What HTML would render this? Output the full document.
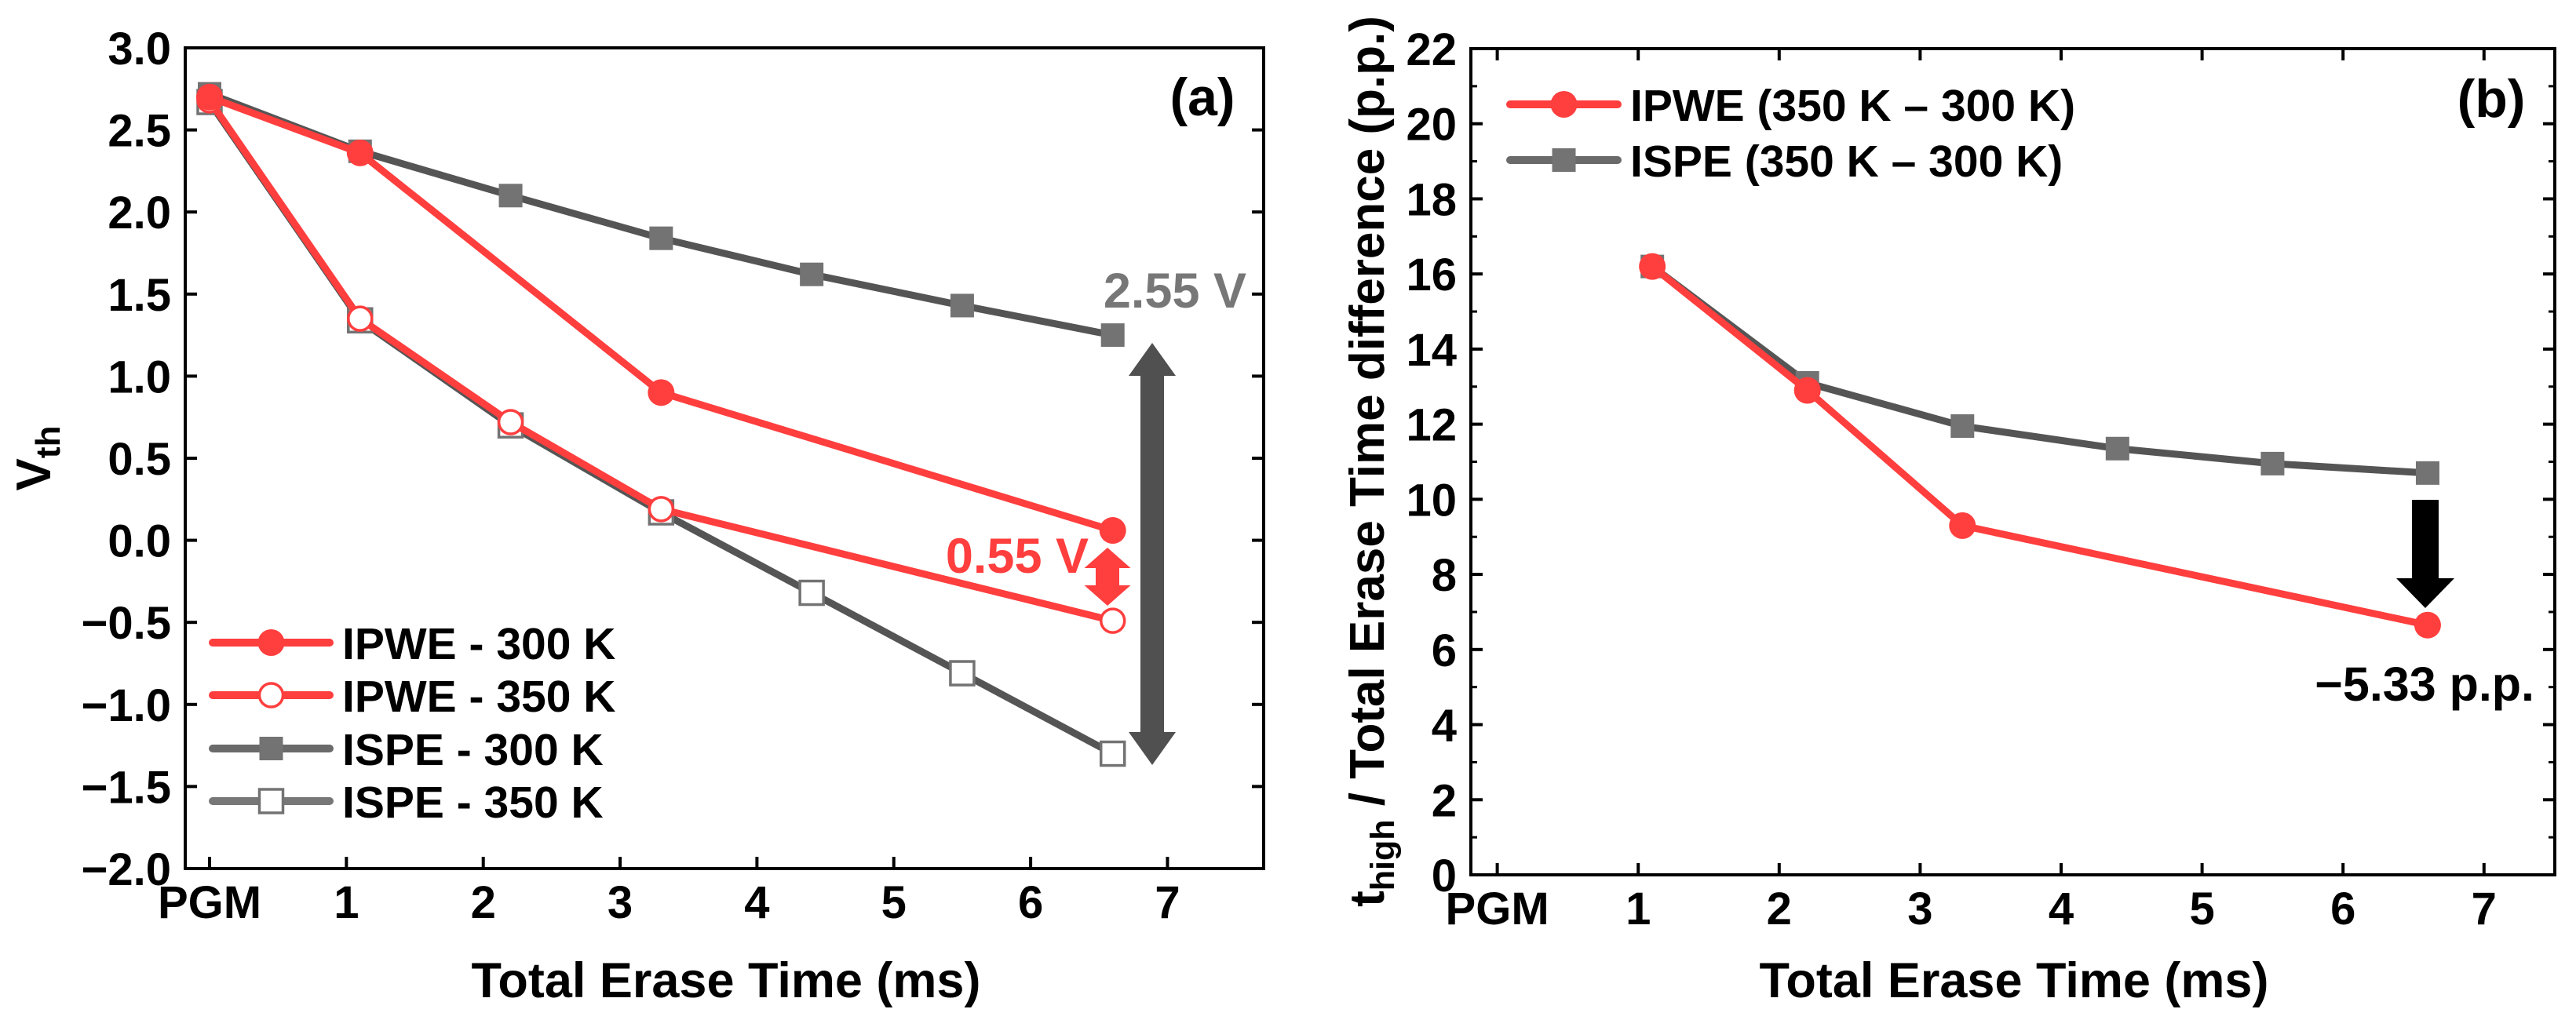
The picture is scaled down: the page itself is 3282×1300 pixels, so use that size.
<!DOCTYPE html>
<html><head><meta charset="utf-8">
<style>
html,body{margin:0;padding:0;background:#fff;}
svg{display:block;}
text{font-family:"Liberation Sans",Arial,sans-serif;font-weight:bold;}
</style></head>
<body>
<svg id="fig" width="3282" height="1300" viewBox="0 0 3282 1300" xmlns="http://www.w3.org/2000/svg">
<g id="pa"></g>
<g id="pb"></g>
</svg>
<script>
// ---- Panel (a) data ----
const aXticks = [0,1,2,3,4,5,6,7];
const aXtickLabels = ["PGM","1","2","3","4","5","6","7"];
const aYticks = [-2.0,-1.5,-1.0,-0.5,0.0,0.5,1.0,1.5,2.0,2.5,3.0];
const aYtickLabels = ["\u22122.0","\u22121.5","\u22121.0","\u22120.5","0.0","0.5","1.0","1.5","2.0","2.5","3.0"];
const ipwe300X = [0,1.1,3.3,6.6];
const ipwe300Y = [2.70,2.36,0.90,0.06];
const ipwe350X = [0,1.1,2.2,3.3,6.6];
const ipwe350Y = [2.68,1.35,0.72,0.19,-0.49];
const ispe300X = [0,1.1,2.2,3.3,4.4,5.5,6.6];
const ispe300Y = [2.72,2.37,2.10,1.84,1.62,1.43,1.25];
const ispe350X = [0,1.1,2.2,3.3,4.4,5.5,6.6];
const ispe350Y = [2.67,1.34,0.70,0.17,-0.32,-0.81,-1.30];
// ---- Panel (b) data ----
const bXticks = [0,1,2,3,4,5,6,7];
const bXtickLabels = ["PGM","1","2","3","4","5","6","7"];
const bYticks = [0,2,4,6,8,10,12,14,16,18,20,22];
const bYtickLabels = ["0","2","4","6","8","10","12","14","16","18","20","22"];
const ipweDiffX = [1.1,2.2,3.3,6.6];
const ipweDiffY = [16.2,12.9,9.3,6.65];
const ispeDiffX = [1.1,2.2,3.3,4.4,5.5,6.6];
const ispeDiffY = [16.2,13.1,11.95,11.35,10.95,10.7];

const NS="http://www.w3.org/2000/svg";
function mk(parent,tag,attrs,txt){const e=document.createElementNS(NS,tag);for(const k in attrs)e.setAttribute(k,attrs[k]);if(txt!==undefined)e.textContent=txt;parent.appendChild(e);return e;}

const RED="#ff3e3e", DARK="#555555", GREY="#737373";

const ax={l:236,r:1610,t:61,b:1107};
const aX=v=>267+v*174.35;
const aY=v=>ax.b-(v+2)/5*(ax.b-ax.t);
const bx={l:1874,r:3255,t:62,b:1115};
const bX=v=>1907.6+v*179.6;
const bY=v=>bx.b-v/22*(bx.b-bx.t);

function frame(g,f,xt,xl,xs,yt,yl,ys,minorY,topTicks){
  const fr=mk(g,'rect',{x:f.l,y:f.t,width:f.r-f.l,height:f.b-f.t,fill:'none',stroke:'#000','stroke-width':4});
  
  
  xt.forEach((v,i)=>{
    const x=xs(v);
    const t=mk(g,'line',{x1:x,x2:x,y1:f.b,y2:f.b-15,stroke:'#000','stroke-width':4});
    
    
    if(topTicks){const t2=mk(g,'line',{x1:x,x2:x,y1:f.t,y2:f.t+15,stroke:'#000','stroke-width':4});
      
      }
    const lb=mk(g,'text',{x:x,y:f.b+63,'font-size':58,'text-anchor':'middle'},xl[i]);
    
    
  });
  yt.forEach((v,i)=>{
    const y=ys(v);
    const t=mk(g,'line',{x1:f.l,x2:f.l+15,y1:y,y2:y,stroke:'#000','stroke-width':4});
    
    
    const t2=mk(g,'line',{x1:f.r,x2:f.r-15,y1:y,y2:y,stroke:'#000','stroke-width':4});
    
    
    const lb=mk(g,'text',{x:f.l-18,y:y+21,'font-size':58,'text-anchor':'end'},yl[i]);
    
    
  });
  if(minorY){for(let i=0;i<yt.length-1;i++){const y=(ys(yt[i])+ys(yt[i+1]))/2;
    const m=mk(g,'line',{x1:f.l,x2:f.l+8,y1:y,y2:y,stroke:'#000','stroke-width':3});
    
    
    const m2=mk(g,'line',{x1:f.r,x2:f.r-8,y1:y,y2:y,stroke:'#000','stroke-width':3});
    
    }}
}

function series(g,name,xs,ys,X,Y,lineColor,markerType,markerColor,filled){
  const sg=mk(g,'g',{});
  
  
  const pts=X.map((v,i)=>xs(v)+','+ys(Y[i])).join(' ');
  const pl=mk(sg,'polyline',{points:pts,fill:'none',stroke:lineColor,'stroke-width':9,'stroke-linejoin':'round'});
  
  
  X.forEach((v,i)=>{
    const cx=xs(v),cy=ys(Y[i]);let m;
    if(markerType==='circle'){m=mk(sg,'circle',{cx:cx,cy:cy,r:filled?17:15,fill:filled?markerColor:'#fff',stroke:markerColor,'stroke-width':filled?0:3.5});}
    else{m=mk(sg,'rect',{x:cx-15,y:cy-15,width:30,height:30,fill:filled?markerColor:'#fff',stroke:markerColor,'stroke-width':filled?0:3.5});}
    
    
  });
}

function legendEntry(g,name,x1,x2,y,tx,label,lineColor,markerType,markerColor,filled){
  const lg=mk(g,'g',{});
  
  
  mk(lg,'line',{x1:x1,x2:x2,y1:y,y2:y,stroke:lineColor,'stroke-width':10,'stroke-linecap':'round'});
  const cx=(x1+x2)/2;
  if(markerType==='circle')mk(lg,'circle',{cx:cx,cy:y,r:filled?17:15,fill:filled?markerColor:'#fff',stroke:markerColor,'stroke-width':filled?0:3.5});
  else mk(lg,'rect',{x:cx-15,y:y-15,width:30,height:30,fill:filled?markerColor:'#fff',stroke:markerColor,'stroke-width':filled?0:3.5});
  mk(lg,'text',{x:tx,y:y+21,'font-size':57},label);
}

function vArrow(g,name,x,y1,y2,shaft,head,headLen,color){
  const h=shaft/2,H=head/2;
  const p=[[x,y1],[x+H,y1+headLen],[x+h,y1+headLen],[x+h,y2-headLen],[x+H,y2-headLen],[x,y2],[x-H,y2-headLen],[x-h,y2-headLen],[x-h,y1+headLen],[x-H,y1+headLen]];
  const a=mk(g,'polygon',{points:p.map(q=>q.join(',')).join(' '),fill:color});
  
  
}

// ---------- Panel A ----------
const ga=document.getElementById('pa');
frame(ga,ax,aXticks,aXtickLabels,aX,aYticks,aYtickLabels,aY,false,false);
series(ga,'ispe-350k-series',aX,aY,ispe350X,ispe350Y,DARK,'square',GREY,false);
series(ga,'ispe-300k-series',aX,aY,ispe300X,ispe300Y,DARK,'square',GREY,true);
series(ga,'ipwe-350k-series',aX,aY,ipwe350X,ipwe350Y,RED,'circle',RED,false);
series(ga,'ipwe-300k-series',aX,aY,ipwe300X,ipwe300Y,RED,'circle',RED,true);
vArrow(ga,'difference-arrow-2-55v',1468,437,975,30,60,42,'#505050');
vArrow(ga,'difference-arrow-0-55v',1411,698,772,30,59,26,RED);
let t;
t=mk(ga,'text',{x:1588,y:392,'font-size':63,'text-anchor':'end',fill:'#777'},'2.55 V');


t=mk(ga,'text',{x:1387,y:730,'font-size':63,'text-anchor':'end',fill:RED},'0.55 V');


t=mk(ga,'text',{x:1532,y:147,'font-size':68,'text-anchor':'middle'},'(a)');


t=mk(ga,'text',{x:925,y:1271,'font-size':63,'text-anchor':'middle'},'Total Erase Time (ms)');


t=mk(ga,'text',{x:0,y:0,'font-size':62,'text-anchor':'middle',transform:'translate(64,584) rotate(-90)'});


mk(t,'tspan',{},'V');mk(t,'tspan',{'font-size':44,dy:12},'th');
legendEntry(ga,'legend-ipwe-300k',271,420,819,436,'IPWE - 300 K',RED,'circle',RED,true);
legendEntry(ga,'legend-ipwe-350k',271,420,886,436,'IPWE - 350 K',RED,'circle',RED,false);
legendEntry(ga,'legend-ispe-300k',271,420,954,436,'ISPE - 300 K','#6a6a6a','square',GREY,true);
legendEntry(ga,'legend-ispe-350k',271,420,1021,436,'ISPE - 350 K','#777','square',GREY,false);

// ---------- Panel B ----------
const gb=document.getElementById('pb');
frame(gb,bx,bXticks,bXtickLabels,bX,bYticks,bYtickLabels,bY,true,true);
series(gb,'ispe-diff-series',bX,bY,ispeDiffX,ispeDiffY,DARK,'square',GREY,true);
series(gb,'ipwe-diff-series',bX,bY,ipweDiffX,ipweDiffY,RED,'circle',RED,true);
(function(){const x=3090,y1=637,y2=775,h=17,H=37,hl=38;
 const a=mk(gb,'polygon',{points:[[x-h,y1],[x+h,y1],[x+h,y2-hl],[x+H,y2-hl],[x,y2],[x-H,y2-hl],[x-h,y2-hl]].map(q=>q.join(',')).join(' '),fill:'#000'});
 
 })();
t=mk(gb,'text',{x:3229,y:893,'font-size':61,'text-anchor':'end'},'\u22125.33 p.p.');


t=mk(gb,'text',{x:3174,y:149,'font-size':68,'text-anchor':'middle'},'(b)');


t=mk(gb,'text',{x:2566,y:1271,'font-size':63,'text-anchor':'middle'},'Total Erase Time (ms)');


t=mk(gb,'text',{x:0,y:0,'font-size':62,'text-anchor':'middle',transform:'translate(1763,588) rotate(-90)'});


mk(t,'tspan',{},'t');mk(t,'tspan',{'font-size':43,dy:13},'high');mk(t,'tspan',{dy:-13},' / Total Erase Time difference (p.p.)');
legendEntry(gb,'legend-ipwe-diff',1924,2061,133,2077,'IPWE (350 K \u2013 300 K)',RED,'circle',RED,true);
legendEntry(gb,'legend-ispe-diff',1924,2061,204,2077,'ISPE (350 K \u2013 300 K)','#6a6a6a','square',GREY,true);
</script>
</body></html>
